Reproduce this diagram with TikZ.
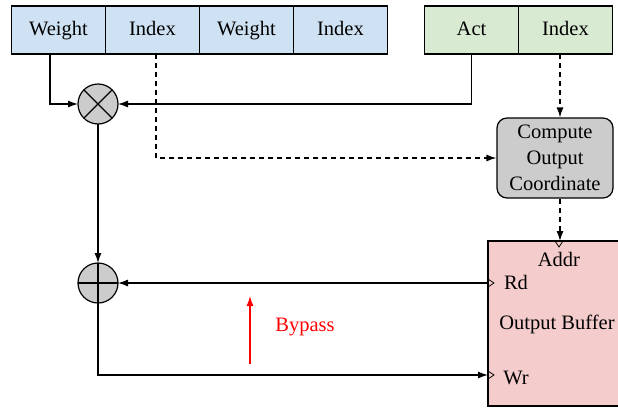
\documentclass[tikz,border=0pt]{standalone}
\usepackage{fontspec}
\setmainfont{Liberation Serif}
\usetikzlibrary{arrows.meta,positioning}
\definecolor{wgtblue}{HTML}{CFE2F3}
\definecolor{actgreen}{HTML}{D9EAD3}
\definecolor{cmpgray}{HTML}{CCCCCC}
\definecolor{bufpink}{HTML}{F4CCCC}

\begin{document}
\begin{tikzpicture}[x=1pt, y=-1pt, line width=1.2pt,
    font=\fontsize{20.5}{26}\selectfont,
    field/.style={draw, minimum width=94pt, minimum height=48pt, inner sep=0pt, outer sep=0pt,
                  text height=14pt, text depth=4pt},
    op/.style={draw, circle, fill=cmpgray, minimum size=40pt, inner sep=0pt, outer sep=0pt},
    tip/.style={-{Latex[length=10pt, width=7pt]}},
    dashline/.style={dash pattern=on 5pt off 4pt}]
      \useasboundingbox (0,0) rectangle (618,407);
      % operand fields
      \node[field, fill=wgtblue] (w1) at (58.5,30) {Weight};
      \node[field, fill=wgtblue, right=0pt of w1] (i1) {Index};
      \node[field, fill=wgtblue, right=0pt of i1] (w2) {Weight};
      \node[field, fill=wgtblue, right=0pt of w2] (i2) {Index};
      \node[field, fill=actgreen] (act) at (471.5,30) {Act};
      \node[field, fill=actgreen, right=0pt of act] (ai) {Index};
      % multiplier and adder
      \node[op] (mul) at (98,104) {};
      \draw (mul.north west) -- (mul.south east) (mul.north east) -- (mul.south west);
      \node[op] (add) at (98,283) {};
      \draw (add.north) -- (add.south) (add.west) -- (add.east);
      % coordinate unit and buffer
      \node[draw, fill=cmpgray, rounded corners=10pt, minimum width=116pt, minimum height=80pt,
            inner sep=0pt, align=center] (cmp) at (555,158) {Compute\\Output\\Coordinate};
      \node[draw, fill=bufpink, minimum width=142pt, minimum height=165pt, anchor=north west,
            outer sep=0pt] (buf) at (488,241) {};
      \node (addr) at (559,259) {Addr};
      \node (rd) at (516,282) {Rd};
      \node (obuf) at (557,324) {Output Buffer};
      \node (wr) at (516,378) {Wr};
      \draw[line width=0.8pt] (555,241) -- (559,247) -- (563,241);
      \draw[line width=0.8pt] (488,279) -- (494,283) -- (488,287);
      \draw[line width=0.8pt] (488,371) -- (494,375) -- (488,379);
      % connectors
      \coordinate (col) at (560,0);
      \coordinate (wrport) at (488,375);
      \draw[tip] ([xshift=-8.5pt]w1.south) |- (mul.west);
      \draw[tip] (act.south) |- (mul.east);
      \draw[tip, dashline] ([xshift=3.5pt]i1.south) |- (cmp.west);
      \draw[tip, dashline] (ai.south -| col) -- (cmp.north -| col);
      \draw[tip, dashline] (cmp.south -| col) -- (buf.north -| col);
      \draw[tip] (mul.south) -- (add.north);
      \draw[tip] (add.east -| buf.west) -- (add.east);
      \draw[tip] (add.south) |- (wrport);
      % bypass
      \coordinate (bpbot) at (250,364);
      \coordinate (bptop) at (250,296);
      \draw[tip, red] (bpbot) -- (bptop);
      \node[red] (bypass) at (305,327) {Bypass};
\end{tikzpicture}
\end{document}
